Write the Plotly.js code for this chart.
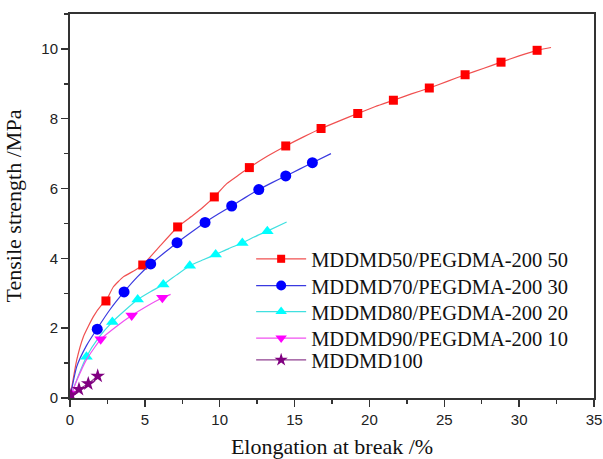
<!DOCTYPE html>
<html>
<head>
<meta charset="utf-8">
<script src="https://cdn.plot.ly/plotly-3.0.1.min.js"></script>
<style>html,body{margin:0;padding:0;background:#fff;}#chart{width:603px;height:459px;}</style>
</head>
<body>
<div id="chart"></div>
<script>
// Series names
const seriesNames = [
  "MDDMD50/PEGDMA-200 50",
  "MDDMD70/PEGDMA-200 30",
  "MDDMD80/PEGDMA-200 20",
  "MDDMD90/PEGDMA-200 10",
  "MDDMD100"
];

// Fitted curves
const curve50X = [0, 0.45, 0.89, 1.56, 2.1, 2.4, 2.89, 3.56, 4.34, 4.86, 6.0, 7.19, 8.24, 8.9, 9.64, 10.47, 11.24, 11.98, 13.2, 14.41, 15.6, 16.77, 18.0, 19.22, 20.4, 21.6, 22.8, 24.0, 25.2, 26.39, 27.6, 28.79, 30.0, 31.2, 32.13];
const curve50Y = [0, 1.09, 1.75, 2.33, 2.66, 2.78, 3.18, 3.47, 3.66, 3.81, 4.35, 4.90, 5.24, 5.47, 5.76, 6.14, 6.38, 6.60, 6.93, 7.22, 7.48, 7.72, 7.94, 8.15, 8.35, 8.53, 8.71, 8.88, 9.07, 9.26, 9.44, 9.62, 9.80, 9.96, 10.04];
const curve70X = [0, 0.45, 1.1, 1.82, 2.7, 3.61, 4.5, 5.39, 6.3, 7.15, 8.1, 9.02, 9.9, 10.8, 11.7, 12.61, 13.5, 14.41, 15.3, 16.19, 17.43];
const curve70Y = [0, 0.9, 1.5, 1.99, 2.55, 3.04, 3.47, 3.84, 4.16, 4.45, 4.75, 5.03, 5.27, 5.50, 5.74, 5.97, 6.17, 6.36, 6.55, 6.74, 7.00];
const curve80X = [0, 0.45, 1.1, 1.9, 2.83, 3.7, 4.52, 5.4, 6.23, 7.1, 8.0, 8.9, 9.73, 10.6, 11.51, 12.3, 13.18, 14.47];
const curve80Y = [0, 0.52, 1.18, 1.72, 2.18, 2.52, 2.82, 3.05, 3.25, 3.52, 3.79, 3.96, 4.11, 4.28, 4.44, 4.61, 4.78, 5.04];
const curve90X = [0.11, 0.45, 1.1, 2.05, 3.1, 4.12, 5.1, 6.17, 6.72];
const curve90Y = [0.13, 0.5, 1.1, 1.68, 2.05, 2.36, 2.62, 2.87, 2.97];
const curve100X = [0.07, 0.6, 1.22, 1.85];
const curve100Y = [0.09, 0.25, 0.41, 0.63];

// Marker points
const mark50X = [2.4, 4.86, 7.19, 9.64, 11.98, 14.41, 16.77, 19.22, 21.6, 24.0, 26.39, 28.79, 31.2];
const mark50Y = [2.78, 3.81, 4.90, 5.76, 6.60, 7.22, 7.72, 8.15, 8.53, 8.88, 9.26, 9.62, 9.96];
const mark70X = [1.82, 3.61, 5.39, 7.15, 9.02, 10.8, 12.61, 14.41, 16.19];
const mark70Y = [1.97, 3.04, 3.84, 4.45, 5.03, 5.50, 5.97, 6.36, 6.74];
const mark80X = [1.1, 2.83, 4.52, 6.23, 8.0, 9.73, 11.51, 13.18];
const mark80Y = [1.18, 2.18, 2.82, 3.25, 3.79, 4.11, 4.44, 4.78];
const mark90X = [0.11, 2.05, 4.12, 6.17];
const mark90Y = [0.13, 1.68, 2.36, 2.87];
const mark100X = [0.07, 0.6, 1.22, 1.85];
const mark100Y = [0.09, 0.25, 0.41, 0.63];

const lineColors = ["#f05050", "#3a3ae0", "#40e0e0", "#f050f0", "#904090"];
const markColors = ["#ff0000", "#0000ff", "#00ffff", "#ff00ff", "#800080"];
const symbols = ["square", "circle", "triangle-up", "triangle-down", "star"];
const sizes = [9, 11, 11, 11, 11];

const curvesX = [curve50X, curve70X, curve80X, curve90X, curve100X];
const curvesY = [curve50Y, curve70Y, curve80Y, curve90Y, curve100Y];
const marksX = [mark50X, mark70X, mark80X, mark90X, mark100X];
const marksY = [mark50Y, mark70Y, mark80Y, mark90Y, mark100Y];

const legendIds = ["legend", "legend2", "legend3", "legend4", "legend5"];
const legendRowY = [0.362, 0.2924, 0.2247, 0.1555, 0.099];

const traces = [];
for (let i = 0; i < seriesNames.length; i++) {
  traces.push({
    x: curvesX[i], y: curvesY[i], type: "scatter", mode: "lines",
    line: {color: lineColors[i], width: 1.2, shape: "spline", smoothing: 0.5},
    showlegend: false, hoverinfo: "skip"
  });
  traces.push({
    x: marksX[i], y: marksY[i], type: "scatter", mode: "markers",
    marker: {color: markColors[i], symbol: symbols[i], size: sizes[i]},
    showlegend: false
  });
}
for (let i = 0; i < seriesNames.length; i++) {
  traces.push({
    x: [null], y: [null], type: "scatter", mode: "lines+markers", name: seriesNames[i],
    legend: legendIds[i],
    line: {color: lineColors[i], width: 1.2},
    marker: {color: markColors[i], symbol: symbols[i], size: sizes[i] - 1}
  });
}

const axisCommon = {
  showline: true, linecolor: "#333", linewidth: 2, mirror: true,
  showgrid: false, zeroline: false,
  ticks: "outside", ticklen: 7, tickwidth: 1.5, tickcolor: "#333",
  tickfont: {family: "Liberation Sans, Arial, sans-serif", size: 15, color: "#222"}
};

const layout = {
  width: 603, height: 459,
  margin: {l: 70, r: 9, t: 14, b: 61},
  paper_bgcolor: "#fff", plot_bgcolor: "#fff",
  xaxis: Object.assign({}, axisCommon, {
    range: [0, 35], dtick: 5, tick0: 0,
    minor: {dtick: 2.5, ticks: "outside", ticklen: 4, tickwidth: 1.5, tickcolor: "#333"},
    title: {text: "Elongation at break /%", font: {family: "Liberation Serif, Times New Roman, serif", size: 22, color: "#111"}, standoff: 14}
  }),
  yaxis: Object.assign({}, axisCommon, {
    range: [0, 11], dtick: 2, tick0: 0,
    minor: {dtick: 1, ticks: "outside", ticklen: 4, tickwidth: 1.5, tickcolor: "#333"},
    title: {text: "Tensile strength /MPa", font: {family: "Liberation Serif, Times New Roman, serif", size: 22, color: "#111"}, standoff: 14}
  }),
  showlegend: true
};
for (let i = 0; i < legendIds.length; i++) {
  layout[legendIds[i]] = {
    x: 0.3457, y: legendRowY[i], xanchor: "left", yanchor: "middle",
    bgcolor: "rgba(0,0,0,0)", borderwidth: 0,
    font: {family: "Liberation Serif, Times New Roman, serif", size: 20.5, color: "#111"},
    itemwidth: 50
  };
}

Plotly.newPlot("chart", traces, layout, {staticPlot: true, displayModeBar: false});
</script>
</body>
</html>
